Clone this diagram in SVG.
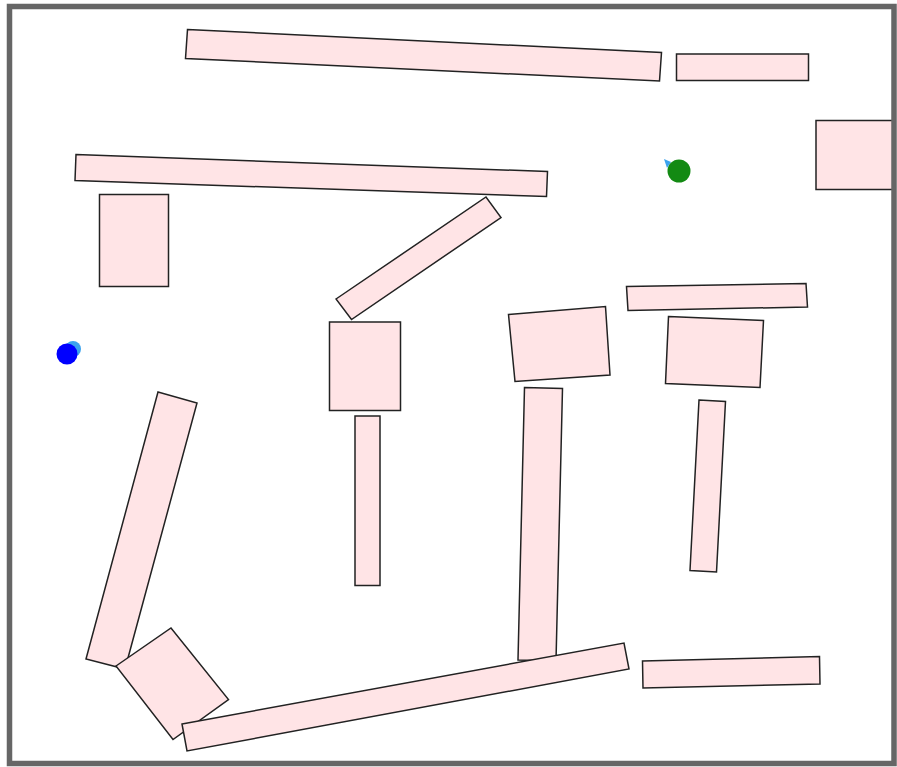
<svg xmlns="http://www.w3.org/2000/svg" width="897" height="767" viewBox="0 0 897 767">
<style>
.ob{fill:#ffe4e6;stroke:#222;stroke-width:1.5;stroke-linejoin:miter}
</style>
<rect x="0" y="0" width="897" height="767" fill="#fff"/>
<g id="obstacles">
<polygon id="o1" class="ob" points="187.5,29.5 661.5,52.5 659.5,81 185.5,58.5"/>
<polygon id="o2" class="ob" points="676.5,54 808.5,54 808.5,80.5 676.5,80.5"/>
<polygon id="o3" class="ob" points="816,120.5 895,120.5 895,189.5 816,189.5"/>
<polygon id="o4" class="ob" points="76,154.5 547.5,171.5 546.5,196.5 75,180.5"/>
<polygon id="o5" class="ob" points="99.5,194.5 168.5,194.5 168.5,286.5 99.5,286.5"/>
<polygon id="o6" class="ob" points="336,299 486,197 501,217.5 351.5,319.5"/>
<polygon id="o7" class="ob" points="329.5,322 400.5,322 400.5,410.5 329.5,410.5"/>
<polygon id="o8" class="ob" points="355,416 380,416 380,585.5 355,585.5"/>
<polygon id="o9" class="ob" points="508.5,314.5 605.5,306.5 610,375 515,381.5"/>
<polygon id="o10" class="ob" points="626.5,286.5 806,283.5 807.5,307 628,310.5"/>
<polygon id="o11" class="ob" points="668.5,316.5 763.5,320.5 760,387.5 665.5,383.5"/>
<polygon id="o12" class="ob" points="699,400 725.5,401.5 716.5,572 690,570.5"/>
<polygon id="o13" class="ob" points="524.5,387.5 562.5,388.5 556,661 518,660"/>
<polygon id="o14" class="ob" points="158,392 197,403 125,669 86,659"/>
<polygon id="o15" class="ob" points="116,666 171,628 228.5,699.5 173,739.5"/>
<polygon id="o16" class="ob" points="182,724 624,643 629,669 187,751"/>
<polygon id="o17" class="ob" points="642.5,661 819.5,656.5 820,684 643,688"/>
</g>
<g id="agents">
<circle cx="73" cy="349" r="8" fill="#3ba3ee"/>
<circle cx="67" cy="354" r="10.5" fill="#0000ff"/>
<polygon points="664,159 671,162 667,168" fill="#3ba3ee"/>
<circle cx="679" cy="171" r="11.5" fill="#138a13"/>
</g>
<rect x="9.5" y="6.5" width="884.5" height="757" fill="none" stroke="#666" stroke-width="5.5"/>
</svg>
